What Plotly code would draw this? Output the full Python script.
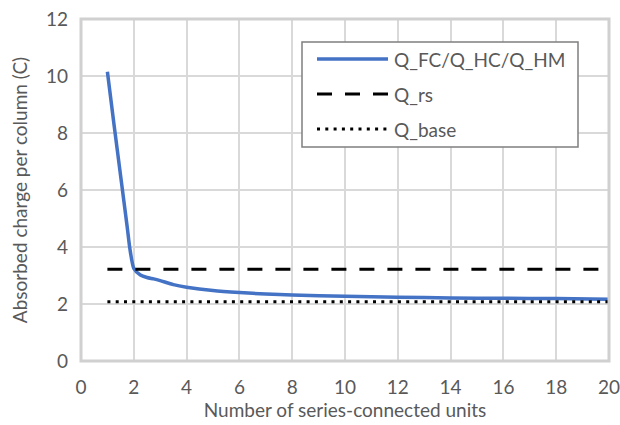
import plotly.graph_objects as go

# Data
x_q = [1, 1.25, 1.5, 1.75, 1.85, 2, 2.25, 2.5, 2.75, 3, 3.5, 4, 5, 6, 7, 8, 10, 12, 14, 16, 18, 20]
y_q = [10.15, 8.3, 6.5, 4.7, 3.95, 3.25, 3.02, 2.93, 2.88, 2.82, 2.68, 2.59, 2.47, 2.40, 2.35, 2.32, 2.27, 2.24, 2.21, 2.20, 2.19, 2.17]
x_rs = [1, 20]
y_rs = [3.22, 3.22]
x_base = [1, 20]
y_base = [2.08, 2.08]
legend_names = ["Q_FC/Q_HC/Q_HM", "Q_rs", "Q_base"]
x_title = "Number of series-connected units"
y_title = "Absorbed charge per column (C)"

W, H = 620, 425
L, R, T, B = 81, 609, 19, 361
FONT = "Lato"
FS = 19
TXT = "#595959"

fig = go.Figure()
fig.add_trace(go.Scatter(x=x_q, y=y_q, mode="lines", name=legend_names[0],
                         line=dict(color="#4472C4", width=3.5, shape="spline", smoothing=0.6)))
fig.add_trace(go.Scatter(x=x_rs, y=y_rs, mode="lines", name=legend_names[1],
                         line=dict(color="black", width=3, dash="15px,13px")))
fig.add_trace(go.Scatter(x=x_base, y=y_base, mode="lines", name=legend_names[2],
                         line=dict(color="black", width=3, dash="3px,5.3px")))


def px(xp):
    return (xp - L) / (R - L)


def py(yp):
    return (B - yp) / (B - T)


shapes = [
    dict(type="rect", xref="paper", yref="paper", x0=0, x1=1, y0=0, y1=1,
         line=dict(color="#d0d0d0", width=3), layer="above"),
    dict(type="rect", xref="paper", yref="paper", x0=px(302), x1=px(578), y0=py(147), y1=py(42),
         line=dict(color="#7f7f7f", width=1.5), fillcolor="white", layer="above"),
]
annotations = []
styles = [dict(color="#4472C4", width=3.5), dict(color="black", width=3, dash="15px,13px"),
          dict(color="black", width=3, dash="3px,5.3px")]
rows = [59, 94, 129]
for name, st, yy in zip(legend_names, styles, rows):
    shapes.append(dict(type="line", xref="paper", yref="paper", x0=px(317), x1=px(388),
                       y0=py(yy), y1=py(yy), line=st, layer="above"))
    annotations.append(dict(xref="paper", yref="paper", x=px(392), y=py(yy), text=name,
                            showarrow=False, xanchor="left", yanchor="middle",
                            font=dict(family=FONT, size=FS, color=TXT)))

fig.update_layout(
    width=W, height=H,
    margin=dict(l=L, r=W - R, t=T, b=H - B, autoexpand=False),
    paper_bgcolor="white", plot_bgcolor="white",
    showlegend=False,
    shapes=shapes, annotations=annotations,
    font=dict(family=FONT, size=FS, color=TXT),
    xaxis=dict(range=[0, 20], tickvals=list(range(0, 21, 2)), showgrid=True,
               gridcolor="#d9d9d9", gridwidth=1.5, zeroline=False, showline=False,
               ticks="", ticklabelstandoff=13, automargin=False, ticklabeloverflow="allow",
               title=dict(text=x_title, standoff=5, font=dict(size=FS))),
    yaxis=dict(range=[0, 12], tickvals=list(range(0, 13, 2)), showgrid=True,
               gridcolor="#d9d9d9", gridwidth=1.5, zeroline=False, showline=False,
               ticks="", ticklabelstandoff=12, automargin=False, ticklabeloverflow="allow",
               title=dict(text=y_title, standoff=13, font=dict(size=FS))),
)

fig.write_html("out.html")
